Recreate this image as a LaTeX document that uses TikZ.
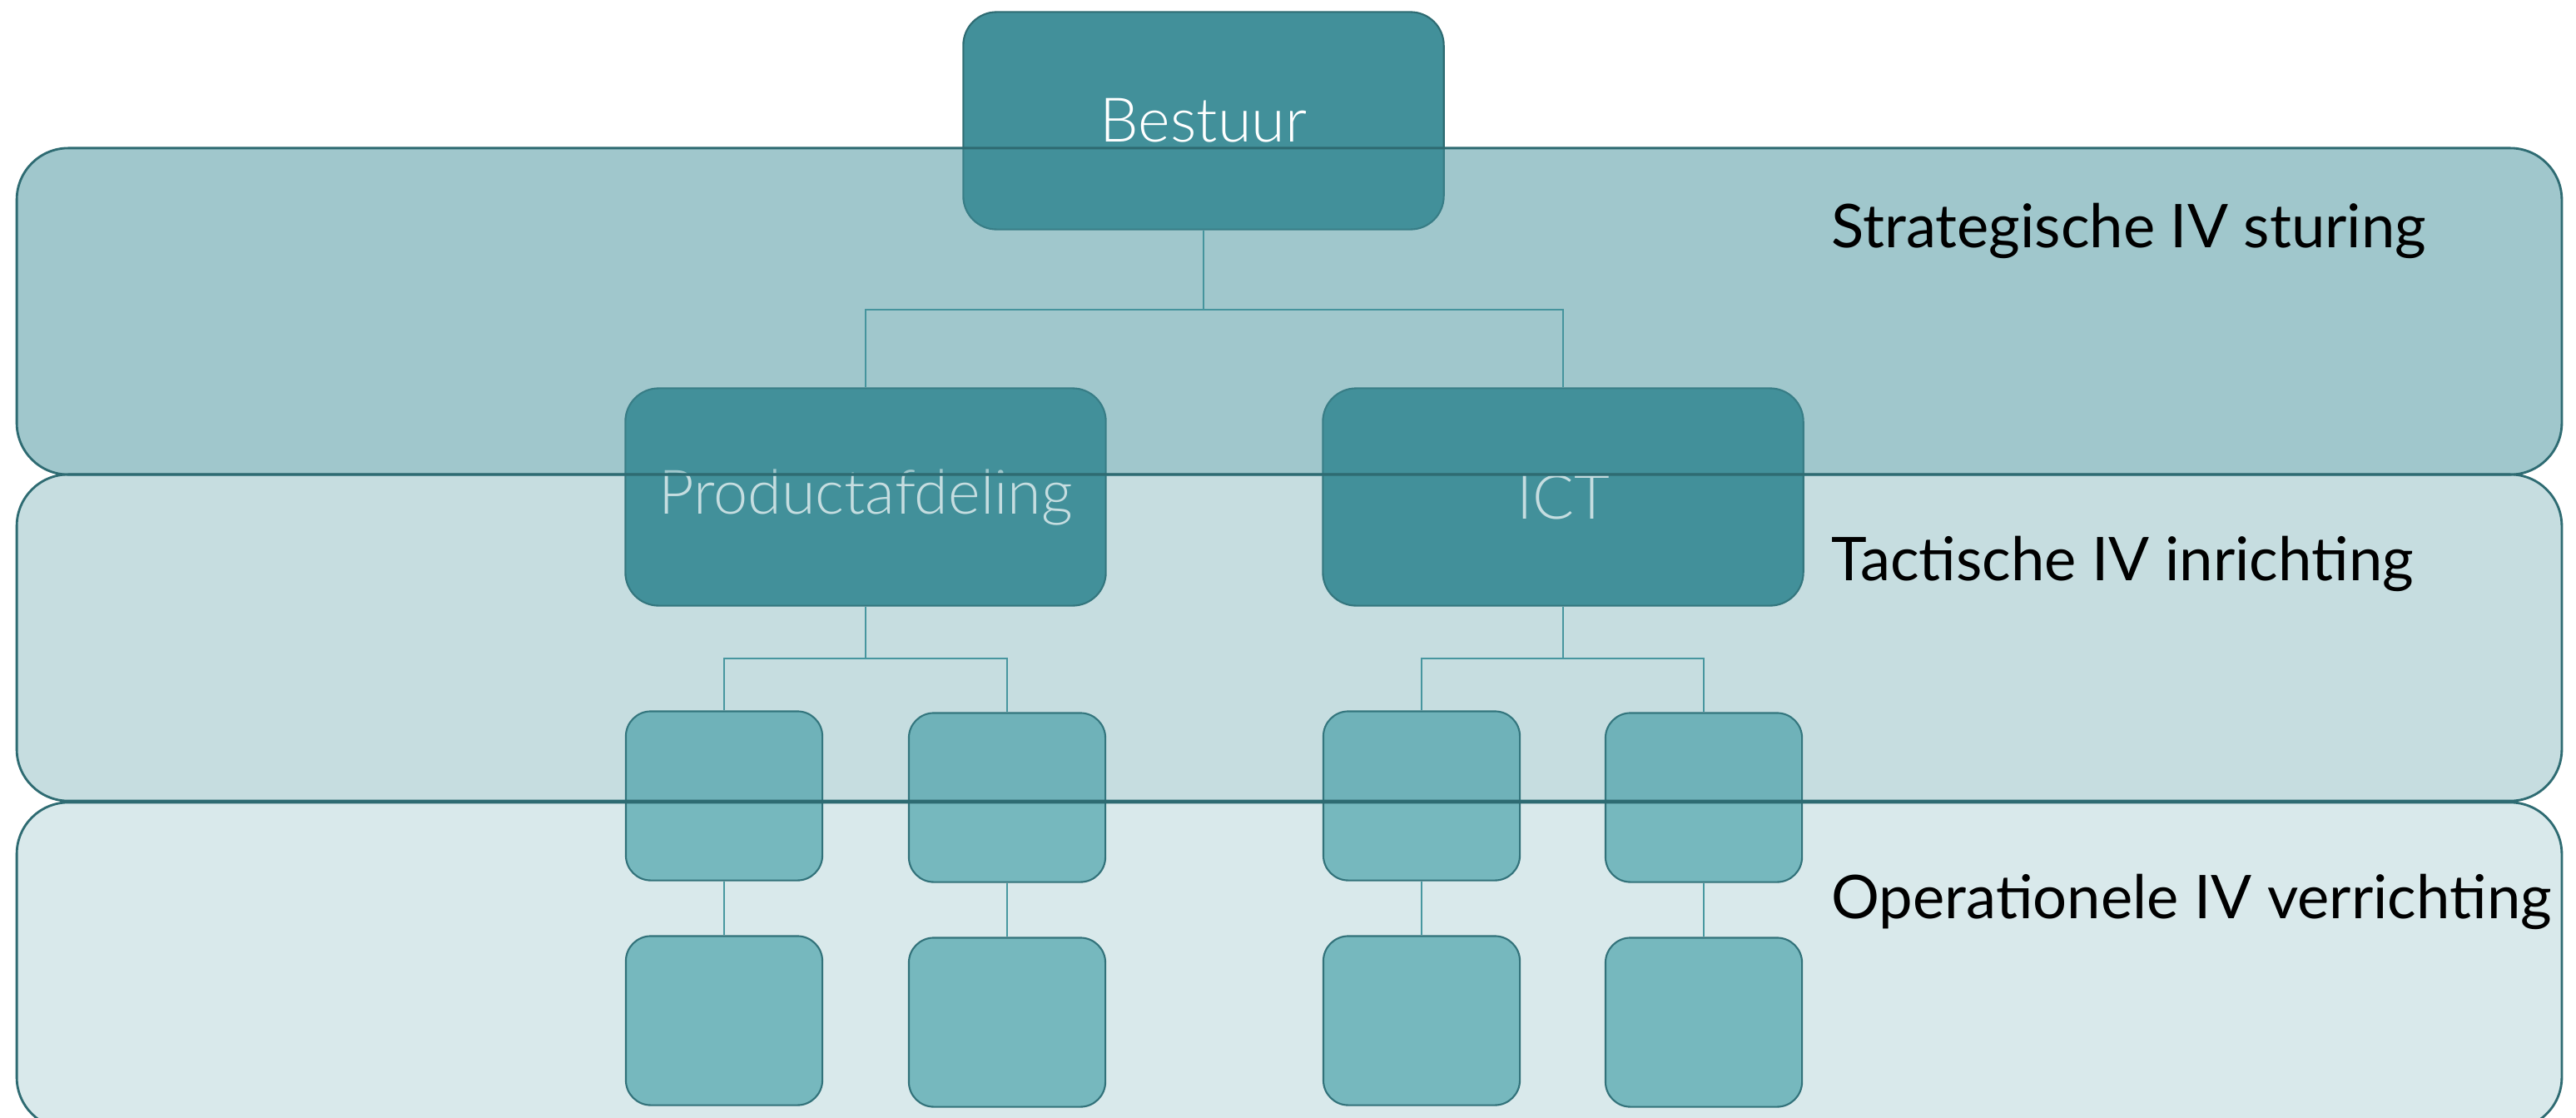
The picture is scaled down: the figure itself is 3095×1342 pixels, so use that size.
\documentclass[tikz,border=0pt]{standalone}
\usepackage{fontspec}
\setmainfont{Lato}
\newfontfamily\boxfont{Lato Light}
\usetikzlibrary{positioning}
\definecolor{tealdark}{HTML}{2E6B72}
\definecolor{tealmid}{HTML}{42909A}
\definecolor{teallight}{HTML}{83C2C7}
\definecolor{tealline}{HTML}{4A9AA2}

\begin{document}
\begin{tikzpicture}[x=0.01cm, y=-0.01cm,
    unit/.style={draw=tealdark, line width=0.6pt, rounded corners=0.4cm, fill=tealmid, text=white,
      minimum width=5.77cm, minimum height=2.61cm, font=\boxfont\fontsize{21}{24}\selectfont},
    team/.style={draw=tealdark, line width=0.6pt, rounded corners=0.3cm, fill=teallight,
      minimum width=2.36cm, minimum height=2.03cm},
    band/.style={draw=tealdark, line width=0.8pt, rounded corners=0.62cm, fill=tealmid,
      minimum width=30.56cm, minimum height=3.92cm},
    layer/.style={anchor=base west, font=\fontsize{20.6}{24}\selectfont},
    link/.style={draw=tealline, line width=0.5pt}
  ]
  \useasboundingbox (0,0) rectangle (3095,1342);

  % organisation
  \node[unit] (bestuur) at (1446,145) {Bestuur};
  \node[unit] (prod) at (1040,597) {Productafdeling};
  \node[unit] (ict) at (1878,597) {ICT};

  \node[team] (p1) at (870,956) {};
  \node[team] (p2) at (1210,958) {};
  \node[team] (i1) at (1708,956) {};
  \node[team] (i2) at (2047,958) {};
  \node[team] (p1b) at (870,1226) {};
  \node[team] (p2b) at (1210,1228) {};
  \node[team] (i1b) at (1708,1226) {};
  \node[team] (i2b) at (2047,1228) {};

  \draw[link] (bestuur.south) -- ++(0,95) coordinate (b0);
  \draw[link] (prod.north) |- (b0) -| (ict.north);
  \draw[link] (prod.south) -- ++(0,62) coordinate (p0);
  \draw[link] (p1.north) |- (p0) -| (p2.north);
  \draw[link] (ict.south) -- ++(0,62) coordinate (i0);
  \draw[link] (i1.north) |- (i0) -| (i2.north);
  \draw[link] (p1.south) -- (p1b.north);
  \draw[link] (p2.south) -- (p2b.north);
  \draw[link] (i1.south) -- (i1b.north);
  \draw[link] (i2.south) -- (i2b.north);

  % layers
  \node[band, fill opacity=0.5] (strat) at (1549,374) {};
  \node[band, fill opacity=0.3] (tact) at (1549,766) {};
  \node[band, fill opacity=0.2] (oper) at (1549,1160) {};

  \node[layer] (strattxt) at (2188,297) {Strategische IV sturing};
  \node[layer] (tacttxt) at (2188,697) {Tactische IV inrichting};
  \node[layer] (opertxt) at (2188,1103) {Operationele IV verrichting};
\end{tikzpicture}
\end{document}
